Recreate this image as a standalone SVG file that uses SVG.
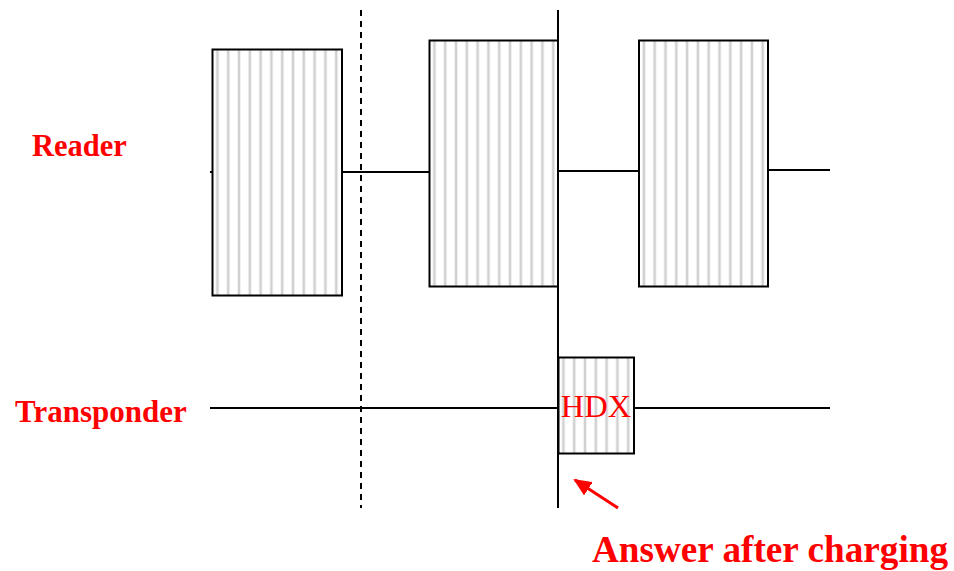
<svg xmlns="http://www.w3.org/2000/svg" width="954" height="571" viewBox="0 0 954 571">
  <style>
    .box { fill: url(#stripes); stroke: #000; stroke-width: 2; }
    .wire { stroke: #000; stroke-width: 2; fill: none; }
    .lbl { font-family: "Liberation Serif", "Times New Roman", serif; font-weight: bold; fill: #ff0000; }
    .hdx { font-family: "Liberation Serif", "Times New Roman", serif; fill: #ff0000; font-size: 32.5px; }
  </style>
  <defs>
    <pattern id="stripes" patternUnits="userSpaceOnUse" x="0" y="0" width="10.8" height="20">
      <rect x="0" y="0" width="10.8" height="20" fill="#fff"/>
      <rect x="3.4" y="0" width="3" height="20" fill="#e4e4e4"/>
      <rect x="4.1" y="0" width="1.6" height="20" fill="#cccccc"/>
    </pattern>
    <marker id="arrowRed" markerWidth="18" markerHeight="16" refX="16" refY="8" orient="auto" markerUnits="userSpaceOnUse" viewBox="0 0 18 16">
      <path d="M0,0 L18,8 L0,16 z" fill="#ff0000"/>
    </marker>
  </defs>

  <!-- signal lines and time markers -->
  <g id="connectors">
    <line class="wire" x1="210" y1="172" x2="213" y2="172"/>
    <line class="wire" x1="342" y1="172" x2="429" y2="172"/>
    <line class="wire" x1="558" y1="171" x2="639" y2="171"/>
    <line class="wire" x1="768" y1="170" x2="830" y2="170"/>
    <line class="wire" x1="210" y1="408" x2="558" y2="408"/>
    <line class="wire" x1="634" y1="408" x2="830" y2="408"/>
    <line class="wire" x1="361" y1="10" x2="361" y2="508" stroke-dasharray="6,5"/>
    <line class="wire" x1="558" y1="10" x2="558" y2="508"/>
    <line x1="618" y1="508" x2="575" y2="480" stroke="#ff0000" stroke-width="3" marker-end="url(#arrowRed)"/>
  </g>

  <!-- reader pulses -->
  <g id="pulse1" transform="translate(212.5,49.5)">
    <rect class="box" x="0" y="0" width="129.5" height="246"/>
  </g>
  <g id="pulse2" transform="translate(429.5,40.5)">
    <rect class="box" x="0" y="0" width="128.5" height="246"/>
  </g>
  <g id="pulse3" transform="translate(639,40.5)">
    <rect class="box" x="0" y="0" width="129" height="246"/>
  </g>

  <!-- transponder answer -->
  <g id="hdx" transform="translate(558.5,357.5)">
    <rect class="box" x="0" y="0" width="75.5" height="96"/>
    <text class="hdx" x="37.5" y="59" text-anchor="middle">HDX</text>
  </g>

  <g id="labels">
    <text class="lbl" x="32" y="156" font-size="30.5">Reader</text>
    <text class="lbl" x="15" y="422" font-size="31">Transponder</text>
    <text class="lbl" x="592" y="562" font-size="37.2">Answer after charging</text>
  </g>
</svg>
